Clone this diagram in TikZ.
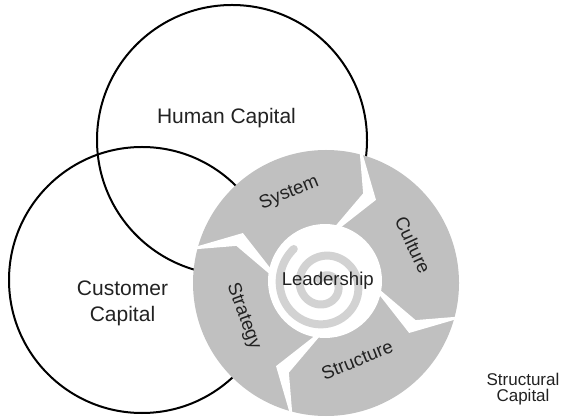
\documentclass[tikz,border=0pt]{standalone}
\usepackage{fontspec}
\setmainfont{Liberation Sans}
\definecolor{ringgray}{RGB}{192,192,192}
\definecolor{spiralgray}{RGB}{210,210,210}
\definecolor{labeltext}{RGB}{34,34,34}
\begin{document}
\begin{tikzpicture}[x=0.5pt,y=0.5pt,
    capital/.style={draw=black,line width=1pt},
    bigtext/.style={font=\fontsize{10.5}{12.7}\selectfont,text=labeltext,align=center,inner sep=0pt},
    ringtext/.style={font=\fontsize{9.3}{11}\selectfont,text=labeltext,inner sep=0pt},
    smalltext/.style={font=\fontsize{8.5}{8}\selectfont,text=labeltext,align=center,inner sep=0pt}]
    \useasboundingbox (0,0) rectangle (566,417);
    % human and customer capital
    \draw [capital] (232,277) circle [radius=135];
    \draw [capital] (142,137) circle [radius=133];
    \node [bigtext] (human) at (226.5,299) {Human Capital};
    \node [bigtext] (customer) at (122.5,113.5) {Customer\\Capital};
    % structural capital ring
    \begin{scope}[shift={(326,134)}]
        \fill [ringgray] (0,0) circle [radius=133];
        \foreach \b in {75,-15,-105,165}
            \fill [white] ({\b+0.3}:133.5) -- ({\b-7.5}:97) -- ({\b+8}:54) -- ({\b+3}:54)
                -- ({\b-16}:97) -- ({\b-1}:133.5) -- cycle;
        \fill [white] (-1,2) circle [radius=57];
        % spiral
        \draw [spiralgray,line width=4pt,line cap=round,shift={(-2,-2)}]
            plot [domain=0:1,samples=200,variable=\t] ({130+720*\t}:{47-40*\t});
        \node [ringtext] (leadership) at (1.8,2.2) {Leadership};
        \node [ringtext,rotate=22] (system) at (112.3:97) {System};
        \node [ringtext,rotate=-65] (culture) at (23.5:95) {Culture};
        \node [ringtext,rotate=22] (structure) at (-68:83) {Structure};
        \node [ringtext,rotate=-70] (strategy) at (202:89) {Strategy};
    \end{scope}
    \node [smalltext] (structural) at (523,28) {Structural\\Capital};
\end{tikzpicture}
\end{document}
